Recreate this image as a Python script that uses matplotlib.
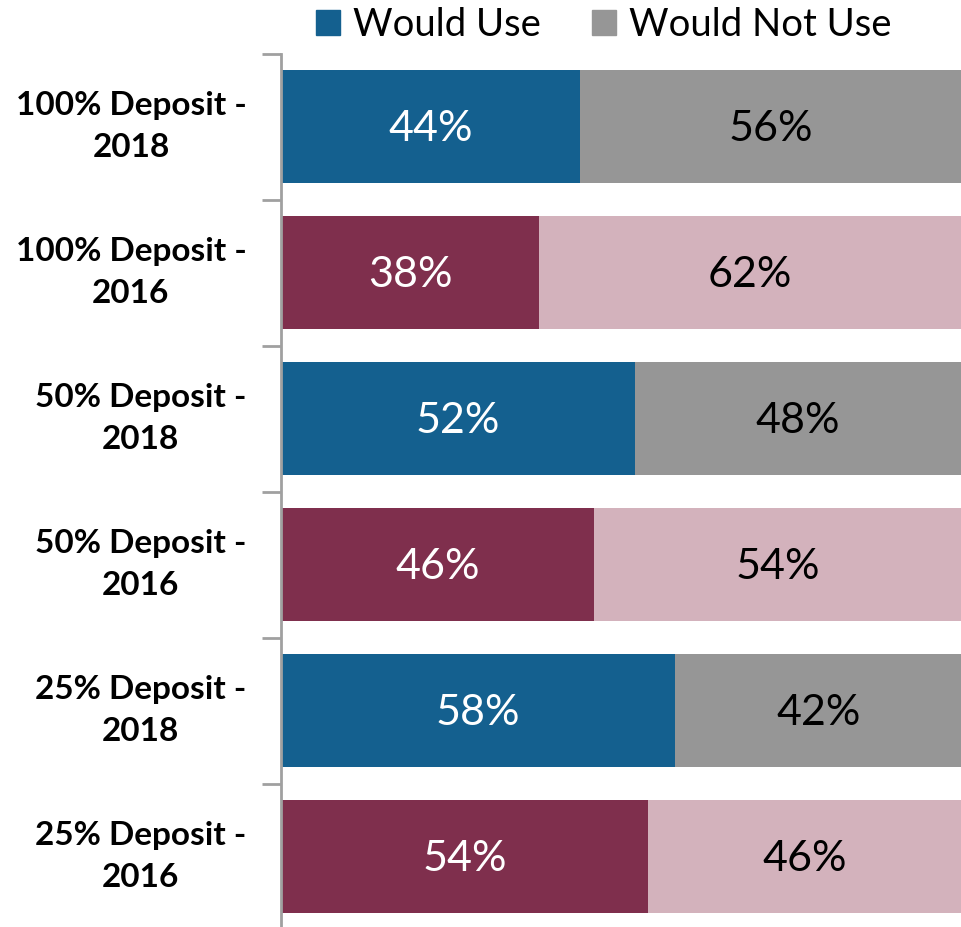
import matplotlib
matplotlib.use("Agg")
import matplotlib.pyplot as plt
import numpy as np
from matplotlib.patches import Patch

categories = ["100% Deposit -\n2018", "100% Deposit -\n2016", "50% Deposit -\n2018",
              "50% Deposit -\n2016", "25% Deposit -\n2018", "25% Deposit -\n2016"]
would_use = [44, 38, 52, 46, 58, 54]
would_not_use = [56, 62, 48, 54, 42, 46]
years = [2018, 2016, 2018, 2016, 2018, 2016]

C_BLUE = "#14608F"
C_GRAY = "#969696"
C_MAROON = "#7F2F4D"
C_PINK = "#D3B2BC"

plt.rcParams['font.family'] = ['Lato', 'DejaVu Sans']

fig = plt.figure(figsize=(9.61, 9.27), dpi=100)
ax = fig.add_axes([281/961, -2.5/927, 680/961, 876/927])

n = len(categories)
y = np.arange(n)
h = 0.775
c_use = [C_BLUE if yr == 2018 else C_MAROON for yr in years]
c_not = [C_GRAY if yr == 2018 else C_PINK for yr in years]

ax.barh(y, would_use, height=h, color=c_use)
ax.barh(y, would_not_use, left=would_use, height=h, color=c_not)

for i in range(n):
    ax.text(would_use[i] / 2, i + 0.02, f"{would_use[i]}%", ha="center", va="center",
            color="white", fontsize=31)
    ax.text(would_use[i] + would_not_use[i] / 2, i + 0.02, f"{would_not_use[i]}%",
            ha="center", va="center", color="black", fontsize=31)

ax.set_xlim(0, 100)
ax.set_ylim(n - 0.5, -0.5)
ax.set_yticks(y)
ax.set_yticklabels(categories, fontsize=24, fontweight="bold", ha="right", va="center",
                   multialignment="center", linespacing=1.55)
ax.tick_params(axis="y", which="major", length=0, pad=25)
ax.set_yticks(np.arange(-0.5, n, 1), minor=True)
ax.tick_params(axis="y", which="minor", length=14, width=2, color="#A0A0A0")
ax.set_xticks([])
for s in ["top", "right", "bottom"]:
    ax.spines[s].set_visible(False)
ax.spines["left"].set_color("#A0A0A0")
ax.spines["left"].set_linewidth(2)

handles = [Patch(color=C_BLUE, label="Would Use"), Patch(color=C_GRAY, label="Would Not Use")]
fig.legend(handles=handles, loc="center", bbox_to_anchor=(604/961, 1 - 25/927),
           ncol=2, frameon=False, fontsize=27.5, handlelength=0.62, handleheight=0.62,
           handletextpad=0.34, columnspacing=1.35, borderaxespad=0.0, borderpad=0.0)

fig.savefig("out.png", dpi=100)
